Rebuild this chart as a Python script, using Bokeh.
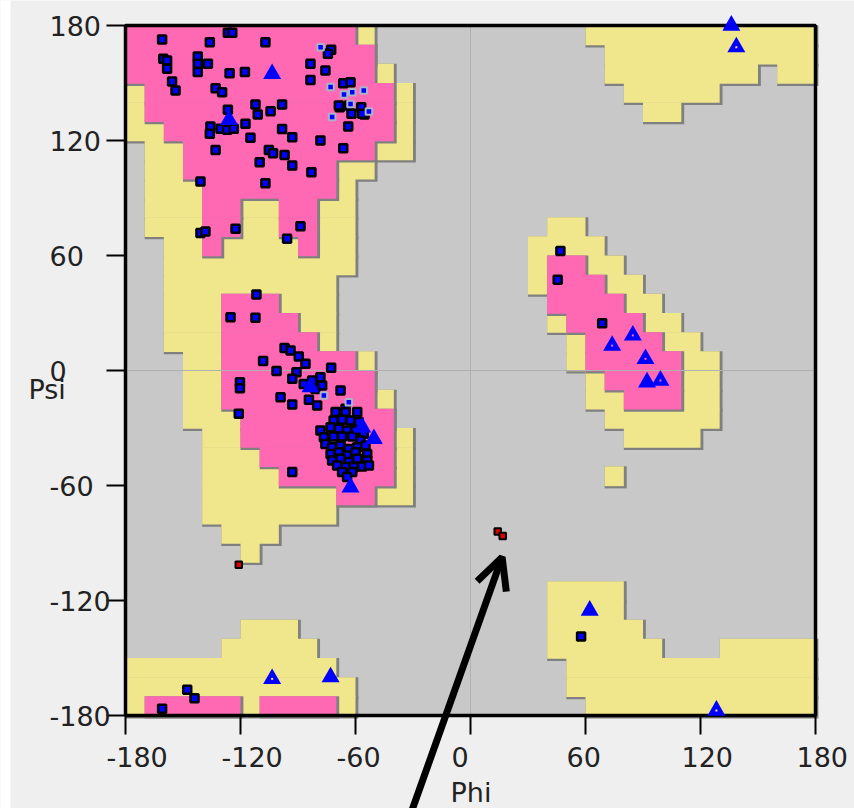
from bokeh.plotting import figure
from bokeh.models import Range1d, Arrow, OpenHead
from bokeh.core.properties import value
from bokeh.embed import file_html
from bokeh.resources import INLINE

# ---------------- data ----------------
TICKS = [-180, -120, -60, 0, 60, 120, 180]
TICK_LABELS = ["-180", "-120", "-60", "0", "60", "120", "180"]
X_TITLE = "Phi"
Y_TITLE = "Psi"

# Region map, 10-degree cells. Rows: psi 180 -> -180, columns: phi -180 -> 180
# '.' = disallowed, 'y' = allowed, 'p' = favoured (core)
ZONE_ROWS = [
    "p"*12 + "y" + "."*11 + "y"*12,
    "p"*13 + "."*12 + "y"*11,
    "p"*13 + "y" + "."*11 + "y"*8 + "." + "y"*2,
    "y" + "p"*13 + "y" + "."*11 + "y"*5 + "."*5,
    "y" + "p"*13 + "y" + "."*12 + "y"*2 + "."*7,
    "y"*2 + "p"*12 + "y" + "."*21,
    "." + "y"*2 + "p"*10 + "y"*2 + "."*21,
    "." + "y"*2 + "p"*8 + "y"*2 + "."*23,
    "." + "y"*3 + "p"*7 + "y" + "."*24,
    "." + "y"*3 + "p"*2 + "y"*2 + "p"*2 + "y"*2 + "."*24,
    "." + "y"*3 + "p"*2 + "y"*2 + "p"*2 + "y"*2 + "."*10 + "y"*2 + "."*12,
    "."*2 + "y"*2 + "p" + "y"*4 + "p" + "y"*2 + "."*9 + "y"*4 + "."*11,
    "."*2 + "y"*10 + "."*9 + "y" + "p"*2 + "y"*2 + "."*10,
    "."*2 + "y"*9 + "."*10 + "y" + "p"*3 + "y"*2 + "."*9,
    "."*2 + "y"*3 + "p"*3 + "y"*3 + "."*11 + "p"*4 + "y"*2 + "."*8,
    "."*2 + "y"*3 + "p"*4 + "y"*2 + "."*11 + "y" + "p"*4 + "y"*2 + "."*7,
    "."*2 + "y"*3 + "p"*5 + "y" + "."*12 + "y" + "p"*4 + "y"*2 + "."*6,
    "."*3 + "y"*2 + "p"*7 + "y" + "."*10 + "y" + "p"*5 + "y"*2 + "."*5,
    "."*3 + "y"*2 + "p"*8 + "."*11 + "y" + "p"*4 + "y"*2 + "."*5,
    "."*3 + "y"*2 + "p"*8 + "y" + "."*10 + "y"*2 + "p"*3 + "y"*2 + "."*5,
    "."*3 + "y"*3 + "p"*8 + "."*11 + "y"*6 + "."*5,
    "."*4 + "y"*2 + "p"*8 + "y" + "."*11 + "y"*4 + "."*6,
    "."*4 + "y"*3 + "p"*7 + "y" + "."*21,
    "."*4 + "y"*4 + "p"*6 + "y" + "."*10 + "y" + "."*10,
    "."*4 + "y"*7 + "p"*2 + "y"*2 + "."*21,
    "."*4 + "y"*7 + "."*25,
    "."*5 + "y"*3 + "."*28,
    "."*6 + "y" + "."*29,
    "."*36,
    "."*22 + "y"*4 + "."*10,
    "."*22 + "y"*4 + "."*10,
    "."*6 + "y"*3 + "."*13 + "y"*5 + "."*9,
    "."*5 + "y"*5 + "."*12 + "y"*6 + "."*3 + "y"*5,
    "y"*11 + "."*12 + "y"*13,
    "y"*12 + "."*11 + "y"*13,
    "y" + "p"*5 + "y" + "p"*4 + "y" + "."*12 + "y"*12,
]

# General residues (blue squares)
GEN_PHI = [
    -160.9, -126.6, -124.3, -136.0, -107.0, -160.3, -158.3, -158.3, -155.7, -153.9,
    -142.3, -142.3, -142.3, -137.0, -125.7, -117.7, -133.0, -129.6, -126.6,
    -135.7, -136.0, -130.4, -127.0, -123.5, -117.4, -112.2, -111.0, -104.3, -98.3,
    -114.8, -133.0, -98.3, -93.0, -105.2, -103.0, -97.0, -93.0, -110.0, -83.0, -78.3,
    -83.5, -83.5, -75.7, -72.7, -74.4, -66.4, -62.6, -68.2, -62.1, -57.0, -55.3, -63.8, -66.4,
    -68.7, -63.5, -56.5,
    -140.9, -107.0, -140.9, -138.3, -122.6, -88.7, -95.7,
    -111.7, -125.2, -112.2, -108.2,
    -97.0, -93.9, -89.6, -86.1, -101.2, -90.8, -93.0, -87.0, -82.6, -78.3, -72.7,
    -99.1, -93.0, -84.3, -80.0, -67.8, -65.2, -80.9, -77.4,
    -120.3, -120.3, -120.9,
    -70.4, -65.2, -59.1, -71.4, -67.0, -62.6, -58.3, -78.3, -73.0, -68.7, -64.4, -60.0, -55.7,
    -76.5, -71.4, -67.0, -61.7, -57.4, -75.7, -72.2, -67.8, -63.5, -59.1, -54.8,
    -73.0, -68.7, -64.4, -60.0, -53.9, -72.2, -67.8, -63.5, -59.1, -53.9,
    -69.6, -65.2, -60.9, -56.5, -53.0, -67.0, -61.7,
    -93.0, -64.4,
    -147.8, -144.0, -160.9,
    46.9, 45.5, 68.7, 57.7,
]
GEN_PSI = [
    172.7, 176.2, 176.2, 171.3, 171.3, 162.6, 161.7, 157.4, 150.8, 146.1,
    163.8, 160.0, 155.7, 160.0, 155.1, 155.7, 147.3, 145.2, 136.0,
    127.3, 123.5, 126.1, 125.6, 126.1, 128.7, 138.8, 133.6, 135.3, 138.8,
    121.4, 115.1, 126.0, 121.7, 115.1, 113.4, 112.5, 107.0, 108.7, 103.5, 120.0,
    160.0, 151.6, 156.5, 167.3, 165.2, 149.9, 150.4, 137.4, 133.9, 137.4, 133.6, 127.3, 116.0,
    138.3, 138.3, 133.9,
    98.6, 97.7, 71.8, 72.5, 73.9, 75.3, 68.7,
    39.7, 27.8, 27.5, 4.9,
    11.8, 10.4, 7.3, 3.5, -0.3, -0.9, -4.3, -7.0, -5.2, -3.5, 1.4,
    -13.9, -17.7, -15.3, -18.3, -10.4, -20.0, -9.6, -7.8,
    -6.1, -9.2, -22.6,
    -21.7, -21.7, -21.7, -26.1, -25.7, -26.1, -26.9, -31.3, -29.6, -30.4, -31.3, -31.3, -33.0,
    -34.8, -34.4, -34.4, -34.4, -36.5, -38.3, -40.0, -39.1, -40.9, -40.0, -39.1,
    -43.5, -42.6, -44.3, -42.6, -43.5, -47.0, -46.1, -47.8, -46.1, -47.0,
    -49.6, -50.4, -50.4, -50.1, -49.6, -53.0, -53.0,
    -53.0, -55.6,
    -166.6, -171.0, -176.5,
    62.3, 47.3, 24.7, -138.8,
]

# Residues drawn with a pale outline
PALE_PHI = [-78.2, -73.0, -61.7, -55.7, -62.6, -72.2, -53.0, -66.0, -63.5, -76.5]
PALE_PSI = [168.7, 147.9, 145.2, 146.1, 139.1, 132.2, 135.1, 144.0, -16.5, -13.0]

# Glycine (blue triangles)
GLY_PHI = [-103.5, -126.0, -83.5, -56.5, -50.4, -62.6, -103.5, -73.0,
           136.1, 138.7, 73.9, 84.7, 91.3, 92.1, 99.1, 62.2, 128.3]
GLY_PSI = [154.8, 130.8, -8.7, -29.6, -35.7, -60.9, -160.9, -160.0,
           180.0, 168.7, 13.0, 18.3, 6.1, -6.1, -5.2, -125.2, -177.4]
# glycine triangles that show a small hole in the middle
GLY_OPEN = [6, 9, 10, 11, 12, 14, 16]

# Outliers (red squares)
OUT_PHI = [-120.9, 14.2, 16.8]
OUT_PSI = [-101.4, -84.0, -86.4]

# Arrow pointing at the outliers (phi, psi)
ARROW_START = (-32.5, -235.0)
ARROW_END = (16.5, -97.4)

# ---------------- geometry / styling ----------------
W, H = 854, 808
PLOT_L, PLOT_T = 125, 25          # pixel position of (phi=-180, psi=180)
PPD = 690 / 360.0                 # pixels per degree


def xd(px):
    return (px - PLOT_L) / PPD - 180


def yd(py):
    return 180 - (py - PLOT_T) / PPD


GREY = "#c8c8c8"
YELLOW = "#f0e68c"
PINK = "#ff69b4"
SHADOW = "#808080"
PAGE = "#efefef"
TEXT = "#222222"
FONT = "DejaVu Sans"
FS = "27px"
SH = 1.5       # shadow width, degrees
OV = 0.35      # overlap to hide seams, degrees
ZONE_COLORS = {".": GREY, "y": YELLOW, "p": PINK}


def runs(levels):
    L, R, T, B = [], [], [], []
    for r, line in enumerate(ZONE_ROWS):
        assert len(line) == 36, (r, len(line))
        top = 180 - 10 * r
        c = 0
        while c < 36:
            if line[c] in levels:
                s = c
                while c < 36 and line[c] in levels:
                    c += 1
                L.append(-180 + 10 * s)
                R.append(-180 + 10 * c)
                T.append(top)
                B.append(top - 10)
            else:
                c += 1
    return L, R, T, B


def zone_color(phi, psi):
    r = min(35, max(0, int((180 - psi) // 10)))
    c = min(35, max(0, int((phi + 180) // 10)))
    return ZONE_COLORS[ZONE_ROWS[r][c]]


p = figure(width=W, height=H, output_backend="svg", toolbar_location=None,
           x_range=Range1d(xd(0), xd(W)), y_range=Range1d(yd(H), yd(0)),
           x_axis_type=None, y_axis_type=None, min_border=0)
p.background_fill_color = PAGE
p.border_fill_color = PAGE
p.outline_line_color = None
p.grid.visible = False

# white strip at the far left of the window
p.quad(left=[xd(0)], right=[xd(10)], top=[yd(0)], bottom=[yd(H)],
       fill_color="white", line_color=None)
# plot area
p.quad(left=[-180], right=[180], top=[180], bottom=[-180], fill_color=GREY, line_color=None)

# regions with bevel shadows
for levels, color in (("yp", YELLOW), ("p", PINK)):
    L, R, T, B = runs(levels)
    p.quad(left=L, right=[r + SH for r in R], top=T, bottom=[b - SH for b in B],
           fill_color=SHADOW, line_color=None)
    p.quad(left=L, right=[min(r, 180) for r in R], top=T, bottom=[max(b - OV, -180) for b in B],
           fill_color=color, line_color=None)

# zero lines
p.segment(x0=[-180, 0], y0=[0, -180], x1=[180, 0], y1=[0, 180],
          line_color="#b0b0b0", line_width=1)

# frame, axis lines and ticks
p.quad(left=[-180], right=[180], top=[180], bottom=[-180], fill_color=None,
       line_color="black", line_width=3.5)
p.segment(x0=[xd(PLOT_L - 19)] * len(TICKS), x1=[-180] * len(TICKS), y0=TICKS, y1=TICKS,
          line_color="black", line_width=2)
p.segment(x0=TICKS, x1=TICKS, y0=[-180] * len(TICKS), y1=[yd(PLOT_T + 690 + 19)] * len(TICKS),
          line_color="black", line_width=2)

# residues
p.scatter(GEN_PHI, GEN_PSI, marker="square", size=8, fill_color="#0000ff",
          line_color="black", line_width=2.5)
p.scatter(PALE_PHI, PALE_PSI, marker="square", size=6.5, fill_color="#0000ff",
          line_color="#aab4c8", line_width=2)
p.scatter(GLY_PHI, GLY_PSI, marker="triangle", size=18, fill_color="#0000ff",
          line_color=None)
p.scatter([GLY_PHI[i] for i in GLY_OPEN], [GLY_PSI[i] for i in GLY_OPEN],
          marker="square", size=2, line_color=None,
          fill_color=[zone_color(GLY_PHI[i], GLY_PSI[i]) for i in GLY_OPEN])
p.scatter(OUT_PHI, OUT_PSI, marker="square", size=6.5, fill_color="#dd0000",
          line_color="black", line_width=2)

# tick labels
p.text(x=[xd(49)] * len(TICKS), y=TICKS, text=TICK_LABELS, text_align="left",
       text_baseline="middle", text_font=value(FONT), text_font_size=value(FS),
       text_color=TEXT)
p.text(x=[t - 19 / PPD for t in TICKS], y=[yd(756)] * len(TICKS), text=TICK_LABELS,
       text_align="left", text_baseline="middle", text_font=value(FONT),
       text_font_size=value(FS), text_color=TEXT)
# axis titles
p.text(x=[xd(28), xd(450)], y=[yd(389), yd(792)], text=[Y_TITLE, X_TITLE],
       text_align="left", text_baseline="middle", text_font=value(FONT),
       text_font_size=value(FS), text_color=TEXT)

p.add_layout(Arrow(end=OpenHead(size=31, line_width=7, line_color="black"),
                   x_start=ARROW_START[0], y_start=ARROW_START[1],
                   x_end=ARROW_END[0], y_end=ARROW_END[1],
                   line_width=7, line_color="black"))

open("out.html", "w").write(file_html(p, INLINE))
